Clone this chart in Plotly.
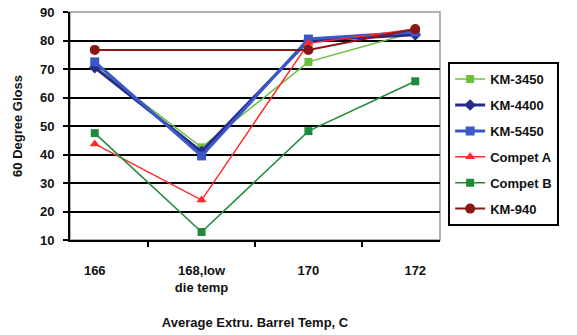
import plotly.graph_objects as go

categories = ["166", "168,low<br>die temp", "170", "172"]
km3450 = [71, 42.5, 72.5, 83]
km4400 = [70.5, 41, 80, 82]
km5450 = [72.5, 39.5, 80.5, 83]
competA = [43.7, 24, 79, 84]
competB = [47.5, 12.8, 48.2, 65.7]
km940 = [76.7, None, 76.7, 84]

series = [
    ("KM-3450", km3450, "#6cc040", "square", 1.5, 8),
    ("KM-4400", km4400, "#2a2a8c", "diamond", 3, 9),
    ("KM-5450", km5450, "#3a58c8", "square", 3, 9),
    ("Compet A", competA, "#ff2a2a", "triangle-up", 1.5, 9),
    ("Compet B", competB, "#1f8a3c", "square", 1.5, 8),
    ("KM-940", km940, "#8b1616", "circle", 2, 10),
]

fig = go.Figure()
for i, (name, vals, col, sym, lw, ms) in enumerate(series):
    fig.add_trace(go.Scatter(
        x=categories, y=vals, name=name, mode="lines+markers",
        line=dict(color=col, width=lw),
        marker=dict(color=col, symbol=sym, size=ms),
        connectgaps=True, legendgroup=f"g{i}",
    ))

font = dict(family="Liberation Sans, Arial", size=13, color="#111", weight="bold")

fig.update_layout(
    width=577, height=335,
    margin=dict(l=70, r=137, t=12, b=95),
    paper_bgcolor="white", plot_bgcolor="white",
    font=font,
    showlegend=True,
    legend=dict(
        x=1.022, y=0.78, xanchor="left", yanchor="top",
        bgcolor="white", bordercolor="black", borderwidth=2,
        font=dict(family="Liberation Sans, Arial", size=13, color="#111", weight="bold"),
        tracegroupgap=6, itemwidth=30, entrywidth=82, entrywidthmode="pixels",
    ),
    xaxis=dict(
        type="category", categoryorder="array", categoryarray=categories,
        showline=True, linecolor="black", linewidth=2, automargin=False,
        ticks="outside", tickson="boundaries", ticklen=5, tickcolor="black", tickwidth=1.5,
        showgrid=False, tickfont=font, ticklabelstandoff=17,
        title=dict(text="Average Extru. Barrel Temp, C", font=font, standoff=24),
    ),
    yaxis=dict(
        range=[10, 90], dtick=10, tick0=10, automargin=False,
        showline=True, linecolor="black", linewidth=2,
        ticks="outside", ticklen=5, tickcolor="black", tickwidth=1.5,
        showgrid=True, gridcolor="black", gridwidth=1.5,
        zeroline=False, tickfont=font, ticklabelstandoff=6,
        title=dict(text="60 Degree Gloss", font=font, standoff=14),
    ),
    shapes=[dict(type="rect", xref="paper", yref="paper", x0=0, x1=1, y0=0, y1=1,
                 line=dict(color="#999", width=1.5), layer="below")],
)

fig.write_html("out.html")
